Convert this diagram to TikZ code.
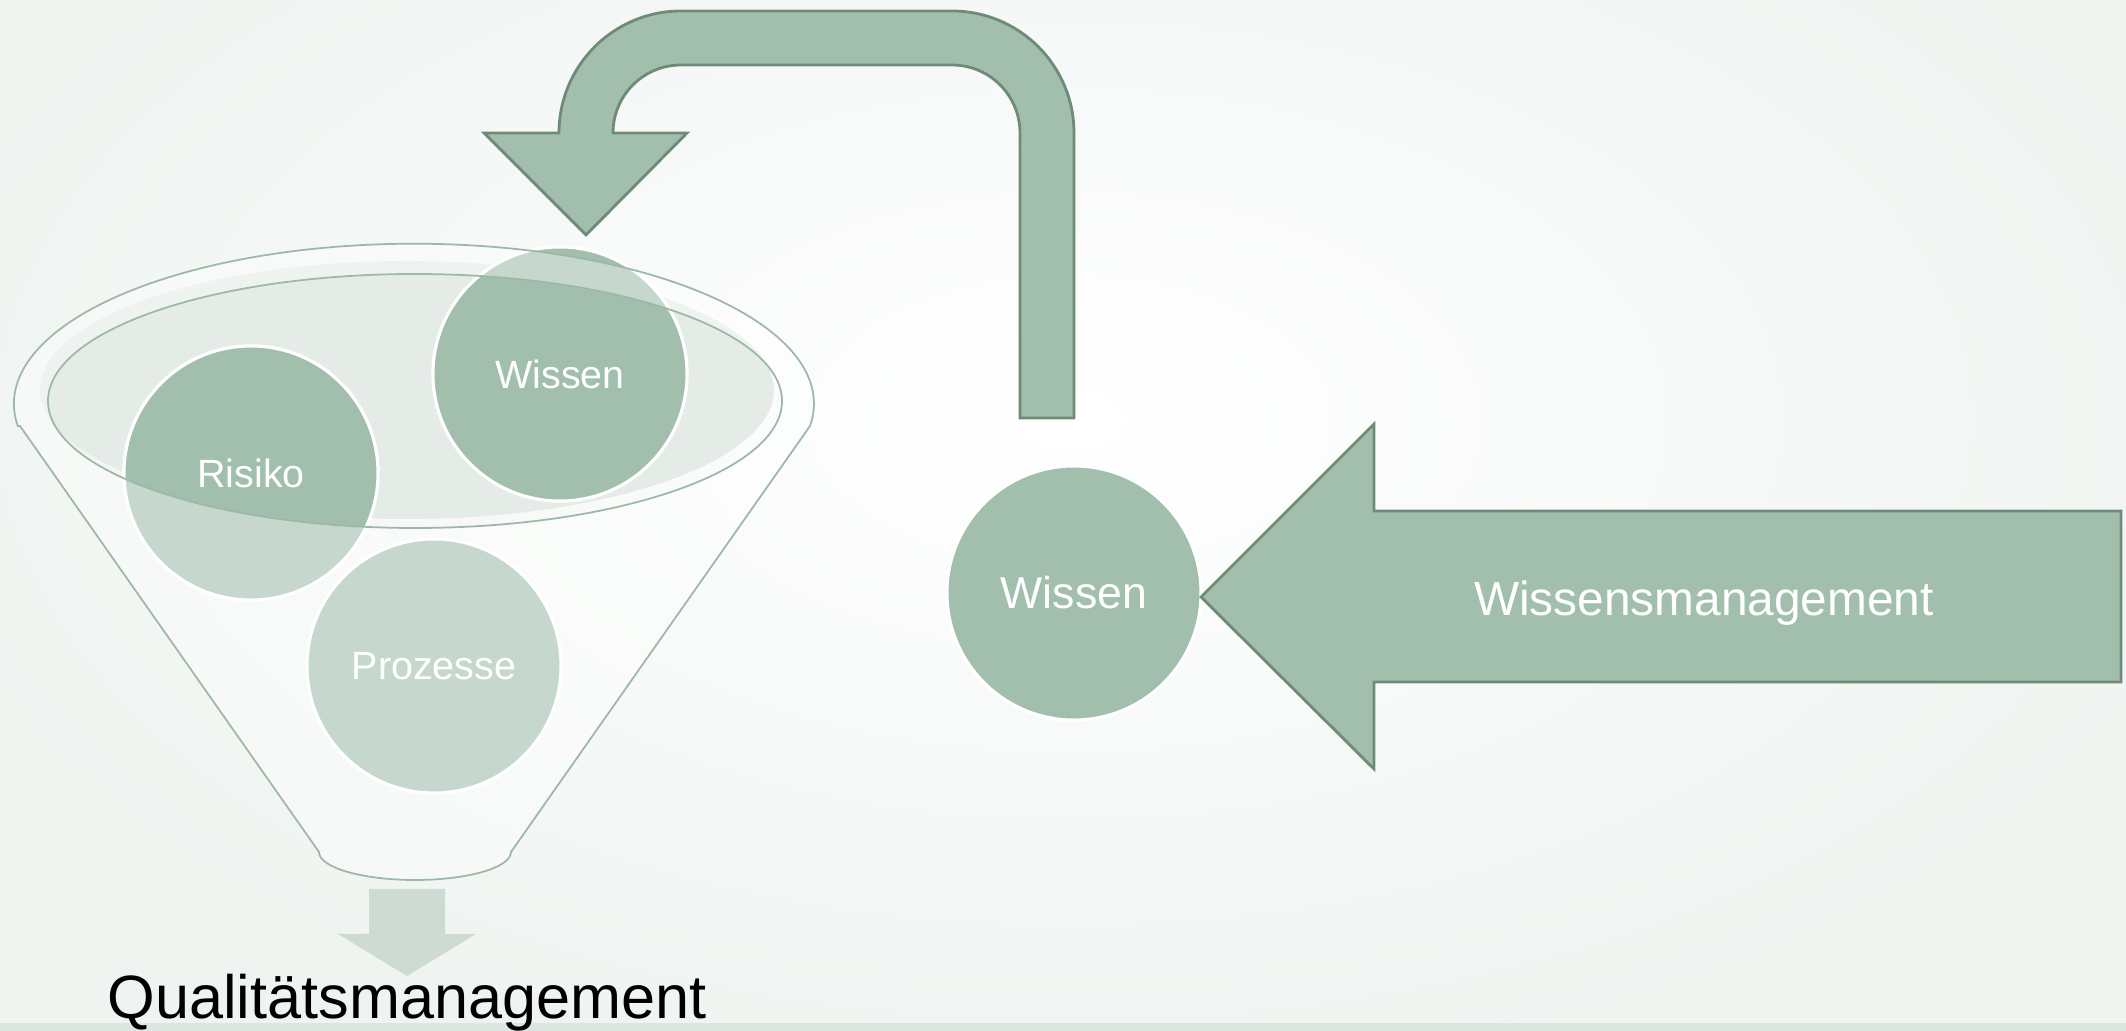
\documentclass[tikz,border=0pt]{standalone}
\usepackage{fontspec}
\setmainfont{Liberation Sans}
\usetikzlibrary{positioning}
\definecolor{sage}{HTML}{A1BFAC}
\definecolor{sageline}{HTML}{6F8B78}
\definecolor{sagelight}{HTML}{CDDBD2}
\definecolor{funnelline}{HTML}{9DB8A7}
\definecolor{liquid}{HTML}{E5ECE7}
\definecolor{bgedge}{HTML}{EFF4F1}
\definecolor{strip}{HTML}{DCE6E0}

\begin{document}
\begin{tikzpicture}[x=0.01cm,y=-0.01cm,
	ball/.style={circle,minimum size=2.54cm,inner sep=0pt,fill=sage,draw=white,line width=0.9pt,text=white,font=\fontsize{11.2}{13}\selectfont},
	blockarrow/.style={fill=sage,draw=sageline,line width=0.8pt,line join=miter},
	funnel/.style={draw=funnelline,line width=0.5pt}]
	\useasboundingbox (0,0) rectangle (2126,1031);
	\fill[bgedge] (0,0) rectangle (2126,1031);
	\shade[inner color=white,outer color=bgedge] (-130,-250) rectangle (2270,1090);
	\fill[strip] (0,1023) rectangle (2126,1031);

	\fill[liquid] (407,390) ellipse [x radius=367,y radius=129];
	\node[ball] (risiko)   at (251,473) {Risiko};
	\node[ball] (wissen_1) at (560,374) {Wissen};
	\node[ball] (prozesse) at (434,666) {Prozesse};

	\fill[white,fill opacity=0.4,even odd rule]
		(20,426) -- (319,852) arc[start angle=180,end angle=0,x radius=96,y radius=28]
		-- (810,426) arc[start angle=8,end angle=-188,x radius=400,y radius=160] -- cycle
		(415,401) ellipse [x radius=367,y radius=127];
	\draw[funnel]
		(20,426) -- (319,852) arc[start angle=180,end angle=0,x radius=96,y radius=28]
		-- (810,426) arc[start angle=8,end angle=-188,x radius=400,y radius=160] -- cycle;
	\draw[funnel] (415,401) ellipse [x radius=367,y radius=127];

	\fill[sagelight] (369,889) -- (445,889) -- (445,934) -- (476,934) -- (407,976)
		-- (338,934) -- (369,934) -- cycle;
	\node[anchor=base,font=\fontsize{17.4}{20}\selectfont] (qm) at (407,1019) {Qualitätsmanagement};

	\draw[blockarrow] (1074,418) -- (1074,133) arc[start angle=0,end angle=-90,radius=122]
		-- (681,11) arc[start angle=-90,end angle=-180,radius=122]
		-- (484,133) -- (586,235) -- (687,133) -- (613,133)
		arc[start angle=180,end angle=270,radius=68]
		-- (952,65) arc[start angle=270,end angle=360,radius=68]
		-- (1020,418) -- cycle;

	\node[ball,font=\fontsize{12.7}{15}\selectfont] (wissen_2) at (1074,593) {Wissen};
	\draw[blockarrow] (2121,511) -- (1374,511) -- (1374,424) -- (1201,597)
		-- (1374,769) -- (1374,682) -- (2121,682) -- cycle;
	\node[text=white,font=\fontsize{13.6}{16}\selectfont] (wm) at (1704,603) {Wissensmanagement};
\end{tikzpicture}
\end{document}
